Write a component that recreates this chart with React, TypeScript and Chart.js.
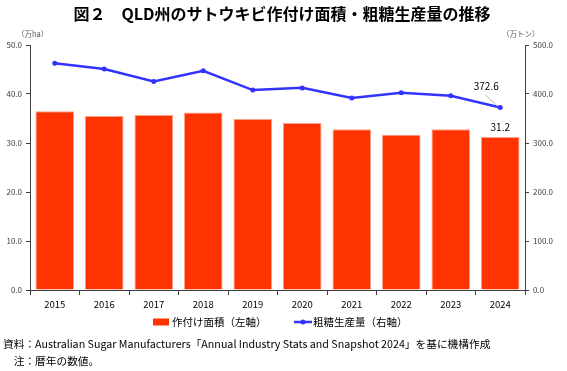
import React, { useEffect, useRef } from "react";
import { Chart, registerables } from "chart.js";

Chart.register(...registerables);

const years = ["2015", "2016", "2017", "2018", "2019", "2020", "2021", "2022", "2023", "2024"];
const areaValues = [36.5, 35.5, 35.7, 36.2, 34.9, 34.1, 32.8, 31.7, 32.8, 31.2];
const productionValues = [462.6, 451.0, 425.5, 447.5, 408.0, 412.5, 392.0, 402.5, 396.5, 372.6];
const leftTicks = [0, 10, 20, 30, 40, 50];
const rightTicks = [0, 100, 200, 300, 400, 500];

const titleText = "図２　QLD州のサトウキビ作付け面積・粗糖生産量の推移";
const leftUnit = "（万ha）";
const rightUnit = "（万トン）";
const barLegend = "作付け面積（左軸）";
const lineLegend = "粗糖生産量（右軸）";
const note1 = "資料：Australian Sugar Manufacturers「Annual Industry Stats and Snapshot 2024」を基に機構作成";
const note2 = "　注：暦年の数値。";

const FONT = "'Noto Sans CJK JP', 'Noto Sans', sans-serif";
const BAR_COLOR = "#FF3300";
const LINE_COLOR = "#3333FF";
const AXIS_COLOR = "#404040";

const overlayPlugin = {
  id: "overlay",
  afterDraw(chart: any) {
    const ctx = chart.ctx;
    ctx.save();
    // title
    ctx.fillStyle = "#000";
    ctx.font = `bold 16px ${FONT}`;
    ctx.textAlign = "center";
    ctx.textBaseline = "middle";
    ctx.fillText(titleText, 282, 14);

    // unit labels
    ctx.font = `7.5px ${FONT}`;
    ctx.fillStyle = "#595959";
    ctx.textAlign = "left";
    ctx.fillText(leftUnit, 17, 34);
    ctx.fillText(rightUnit, 502, 34);

    // data labels for last year
    const last = years.length - 1;
    const bar = chart.getDatasetMeta(0).data[last];
    const pt = chart.getDatasetMeta(1).data[last];
    ctx.fillStyle = "#000";
    ctx.font = `10px ${FONT}`;
    ctx.textAlign = "center";
    ctx.fillText(areaValues[last].toFixed(1), bar.x, bar.y - 10);
    ctx.fillText(productionValues[last].toFixed(1), pt.x - 14, pt.y - 21);
    ctx.strokeStyle = "#A6A6A6";
    ctx.lineWidth = 0.8;
    ctx.beginPath();
    ctx.moveTo(pt.x - 15, pt.y - 12.5);
    ctx.lineTo(pt.x - 3, pt.y - 1.5);
    ctx.stroke();

    // legend
    const ly = 322;
    ctx.fillStyle = BAR_COLOR;
    ctx.fillRect(153, ly - 3.5, 16, 7);
    ctx.fillStyle = "#000";
    ctx.font = `10.5px ${FONT}`;
    ctx.textAlign = "left";
    ctx.fillText(barLegend, 172, ly);
    ctx.strokeStyle = LINE_COLOR;
    ctx.lineWidth = 2.5;
    ctx.beginPath();
    ctx.moveTo(294, ly);
    ctx.lineTo(312, ly);
    ctx.stroke();
    ctx.fillStyle = LINE_COLOR;
    ctx.beginPath();
    ctx.arc(303, ly, 2.5, 0, Math.PI * 2);
    ctx.fill();
    ctx.fillStyle = "#000";
    ctx.fillText(lineLegend, 313, ly);

    // notes
    ctx.font = `10.7px ${FONT}`;
    ctx.fillText(note1, 3, 344, 489);
    ctx.fillText(note2, 3, 361);
    ctx.restore();
  },
};

export default function App() {
  const ref = useRef<HTMLCanvasElement>(null);
  useEffect(() => {
    if (!ref.current) return;
    const chart = new Chart(ref.current, {
      type: "bar",
      data: {
        labels: years,
        datasets: [
          {
            type: "bar",
            label: barLegend,
            data: areaValues,
            yAxisID: "y",
            backgroundColor: BAR_COLOR,
            borderColor: "#FF9F85",
            borderWidth: 1,
            categoryPercentage: 1,
            barPercentage: 0.78,
            order: 2,
          },
          {
            type: "line",
            label: lineLegend,
            data: productionValues,
            yAxisID: "y1",
            borderColor: LINE_COLOR,
            backgroundColor: LINE_COLOR,
            borderWidth: 2.5,
            pointRadius: 2.5,
            pointBackgroundColor: LINE_COLOR,
            pointBorderWidth: 0,
            tension: 0,
            order: 1,
          },
        ] as any,
      },
      options: {
        responsive: false,
        animation: false,
        layout: { padding: { top: 45, left: 0, right: 0, bottom: 0 } },
        plugins: {
          legend: { display: false },
          title: { display: false },
          tooltip: { enabled: false },
        },
        scales: {
          x: {
            offset: true,
            grid: {
              offset: true,
              drawOnChartArea: false,
              drawTicks: true,
              tickLength: 5,
              color: AXIS_COLOR,
            },
            border: { color: AXIS_COLOR, width: 1 },
            ticks: { color: "#000", font: { family: FONT, size: 9.5 }, padding: 4 },
            afterFit: (s: any) => {
              s.height = 81;
            },
          },
          y: {
            position: "left",
            min: leftTicks[0],
            max: leftTicks[leftTicks.length - 1],
            afterBuildTicks: (s: any) => {
              s.ticks = leftTicks.map((v) => ({ value: v }));
            },
            grid: { drawOnChartArea: false, tickLength: 4, color: AXIS_COLOR },
            border: { color: AXIS_COLOR, width: 1 },
            ticks: {
              color: AXIS_COLOR,
              font: { family: FONT, size: 8 },
              padding: 4,
              callback: (v: any) => Number(v).toFixed(1),
            },
            afterFit: (s: any) => {
              s.width = 30;
            },
          },
          y1: {
            position: "right",
            min: rightTicks[0],
            max: rightTicks[rightTicks.length - 1],
            afterBuildTicks: (s: any) => {
              s.ticks = rightTicks.map((v) => ({ value: v }));
            },
            grid: { drawOnChartArea: false, tickLength: 4, color: AXIS_COLOR },
            border: { color: AXIS_COLOR, width: 1 },
            ticks: {
              color: AXIS_COLOR,
              font: { family: FONT, size: 8 },
              padding: 4,
              callback: (v: any) => Number(v).toFixed(1),
            },
            afterFit: (s: any) => {
              s.width = 42;
            },
          },
        },
      } as any,
      plugins: [overlayPlugin],
    });
    return () => chart.destroy();
  }, []);
  return (
    <div style={{ position: "fixed", left: 0, top: 0, width: 567, height: 371, background: "#fff" }}>
      <canvas ref={ref} width={567} height={371} style={{ display: "block", width: 567, height: 371 }} />
    </div>
  );
}
